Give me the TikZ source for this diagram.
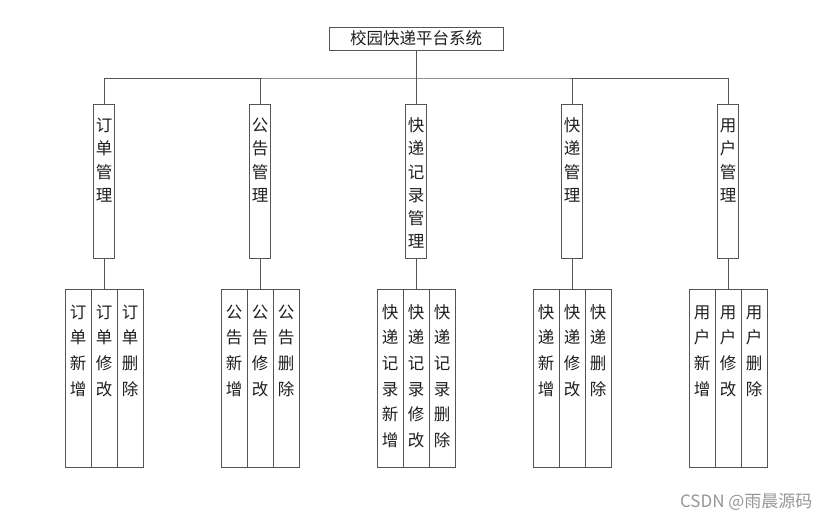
\documentclass[tikz,border=0pt]{standalone}
\usepackage{fontspec}
\setmainfont{Noto Sans CJK SC}
\usepackage{tikz}
\usetikzlibrary{positioning}
\definecolor{SysLine}{RGB}{85,85,85}
\definecolor{SysText}{RGB}{30,30,30}
\definecolor{SysMark}{RGB}{150,150,150}

\begin{document}
\begin{tikzpicture}[
  x=1pt,y=-1pt,
  node distance=0pt,
  sysbox/.style={
    draw=SysLine,text=SysText,line width=0.8pt,
    minimum width=174pt,minimum height=23pt,inner sep=0pt,
    font=\fontsize{16.5}{20}\selectfont
  },
  modbox/.style={
    draw=SysLine,text=SysText,line width=0.8pt,align=center,
    inner xsep=0pt,inner ysep=0pt,minimum width=21pt,text width=16.5pt,
    text height=27pt,text depth=127pt,
    font=\fontsize{16.5}{23.3}\selectfont
  },
  leafbox/.style={
    modbox,minimum width=26pt,outer sep=0pt,
    text height=29pt,text depth=149pt,
    font=\fontsize{16.5}{25.7}\selectfont
  },
  link/.style={draw=SysLine,line width=0.8pt}
]
  \useasboundingbox (0,0) rectangle (831,519);

  % root
  \node[sysbox] (sys) at (416,38.5) {校园快递平台系统};
  \coordinate (bus) at (416,78);

  % modules
  \node[modbox,anchor=north] (m1) at (104,104) {订\\单\\管\\理};
  \node[modbox,anchor=north] (m2) at (260,104) {公\\告\\管\\理};
  \node[modbox,anchor=north] (m3) at (416,104) {快\\递\\记\\录\\管\\理};
  \node[modbox,anchor=north] (m4) at (572,104) {快\\递\\管\\理};
  \node[modbox,anchor=north] (m5) at (728,104) {用\\户\\管\\理};

  % leaves
  \node[leafbox,anchor=north] (l1b) at (104,289) {订\\单\\修\\改};
  \node[leafbox,left=of l1b] (l1a) {订\\单\\新\\增};
  \node[leafbox,right=of l1b] (l1c) {订\\单\\删\\除};

  \node[leafbox,anchor=north] (l2b) at (260,289) {公\\告\\修\\改};
  \node[leafbox,left=of l2b] (l2a) {公\\告\\新\\增};
  \node[leafbox,right=of l2b] (l2c) {公\\告\\删\\除};

  \node[leafbox,anchor=north] (l3b) at (416,289) {快\\递\\记\\录\\修\\改};
  \node[leafbox,left=of l3b] (l3a) {快\\递\\记\\录\\新\\增};
  \node[leafbox,right=of l3b] (l3c) {快\\递\\记\\录\\删\\除};

  \node[leafbox,anchor=north] (l4b) at (572,289) {快\\递\\修\\改};
  \node[leafbox,left=of l4b] (l4a) {快\\递\\新\\增};
  \node[leafbox,right=of l4b] (l4c) {快\\递\\删\\除};

  \node[leafbox,anchor=north] (l5b) at (728,289) {用\\户\\修\\改};
  \node[leafbox,left=of l5b] (l5a) {用\\户\\新\\增};
  \node[leafbox,right=of l5b] (l5c) {用\\户\\删\\除};

  % connectors
  \draw[link] (sys) -- (sys |- bus);
  \draw[link] (m1.north) |- (bus) -| (m5.north);
  \draw[link] (m2.north) -- (m2.north |- bus);
  \draw[link] (m3.north) -- (m3.north |- bus);
  \draw[link] (m4.north) -- (m4.north |- bus);
  \draw[link] (m1) -- (l1b);
  \draw[link] (m2) -- (l2b);
  \draw[link] (m3) -- (l3b);
  \draw[link] (m4) -- (l4b);
  \draw[link] (m5) -- (l5b);

  \node[anchor=east,text=SysMark,font=\fontsize{17}{19}\selectfont] (mark)
    at (816,502) {CSDN @雨晨源码};
\end{tikzpicture}
\end{document}
